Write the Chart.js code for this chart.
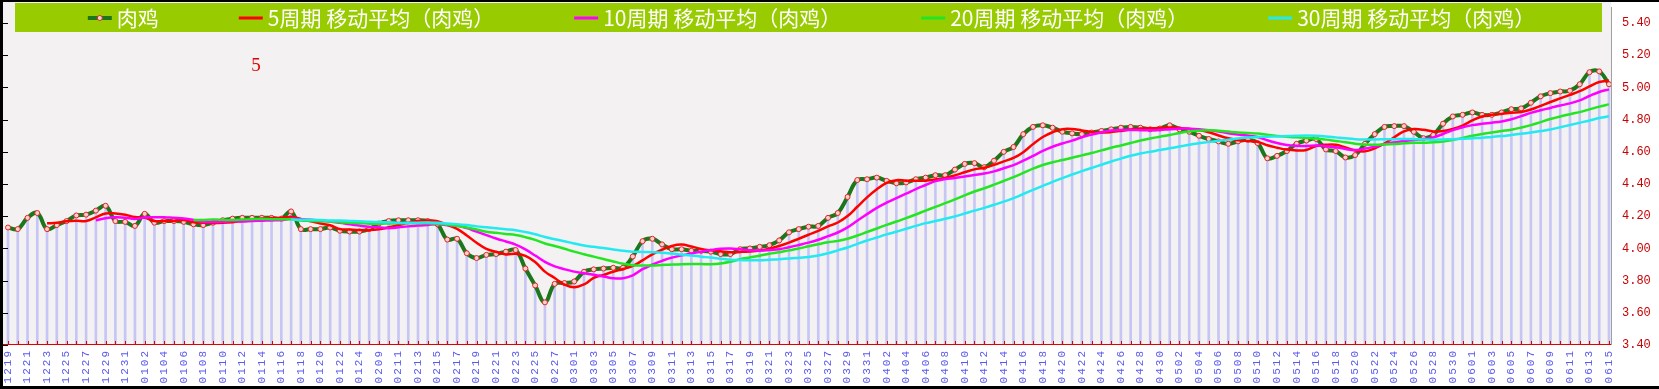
<!DOCTYPE html>
<html>
<head>
<meta charset="utf-8">
<script src="https://cdn.jsdelivr.net/npm/chart.js@4/dist/chart.umd.min.js"></script>
<style>
html, body { margin: 0; padding: 0; background: #fff; }
#c { display: block; width: 1659px; height: 389px; }
</style>
</head>
<body>
<canvas id="c" width="1659" height="389"></canvas>
<script>
// dates (MMDD), one per bar; every other one is printed under the axis
var dates = ['1219','1220','1221','1222','1223','1224','1225','1226','1227','1228','1229','1230','1231',
  '0101','0102','0103','0104','0105','0106','0107','0108','0109','0110','0111','0112','0113','0114','0115','0116','0117','0118','0119','0120','0121','0122','0123','0124',
  '0208','0209','0210','0211','0212','0213','0214','0215','0216','0217','0218','0219','0220','0221','0222','0223','0224','0225','0226','0227','0228',
  '0301','0302','0303','0304','0305','0306','0307','0308','0309','0310','0311','0312','0313','0314','0315','0316','0317','0318','0319','0320','0321','0322','0323','0324','0325','0326','0327','0328','0329','0330','0331',
  '0401','0402','0403','0404','0405','0406','0407','0408','0409','0410','0411','0412','0413','0414','0415','0416','0417','0418','0419','0420','0421','0422','0423','0424','0425','0426','0427','0428','0429','0430',
  '0501','0502','0503','0504','0505','0506','0507','0508','0509','0510','0511','0512','0513','0514','0515','0516','0517','0518','0519','0520','0521','0522','0523','0524','0525','0526','0527','0528','0529','0530','0531',
  '0601','0602','0603','0604','0605','0606','0607','0608','0609','0610','0611','0612','0613','0614','0615'];

var broiler = [4.13,4.12,4.19,4.22,4.12,4.145,4.17,4.205,4.21,4.235,
  4.265,4.17,4.165,4.14,4.215,4.16,4.17,4.17,4.165,4.15,
  4.145,4.16,4.175,4.185,4.19,4.19,4.19,4.19,4.185,4.23,
  4.12,4.12,4.12,4.13,4.11,4.105,4.105,4.12,4.155,4.17,
  4.175,4.175,4.175,4.17,4.15,4.055,4.06,3.97,3.94,3.96,
  3.965,3.98,3.99,3.875,3.77,3.665,3.78,3.785,3.795,3.855,
  3.87,3.875,3.88,3.88,3.95,4.045,4.06,4.025,3.995,3.995,
  3.985,3.985,3.98,3.965,3.965,3.995,4.00,4.01,4.02,4.05,
  4.10,4.12,4.135,4.14,4.19,4.22,4.32,4.425,4.43,4.44,
  4.42,4.405,4.41,4.43,4.44,4.455,4.455,4.49,4.525,4.53,
  4.505,4.545,4.60,4.63,4.71,4.755,4.765,4.75,4.725,4.715,
  4.71,4.72,4.73,4.74,4.75,4.755,4.75,4.74,4.745,4.765,
  4.74,4.725,4.70,4.68,4.665,4.65,4.665,4.675,4.655,4.56,
  4.575,4.605,4.65,4.67,4.68,4.615,4.605,4.565,4.58,4.65,
  4.71,4.755,4.76,4.76,4.725,4.685,4.705,4.775,4.82,4.83,
  4.845,4.83,4.83,4.845,4.865,4.87,4.905,4.945,4.965,4.975,
  4.98,5.02,5.095,5.10,5.02];

var ma5 = [null,null,null,null,4.156,4.159,4.169,4.172,4.170,4.193,
  4.217,4.217,4.209,4.195,4.191,4.170,4.170,4.171,4.176,4.163,
  4.160,4.158,4.159,4.163,4.171,4.180,4.186,4.189,4.189,4.197,
  4.183,4.169,4.155,4.144,4.120,4.117,4.114,4.114,4.119,4.131,
  4.145,4.159,4.170,4.173,4.169,4.145,4.122,4.081,4.035,3.997,
  3.979,3.963,3.967,3.954,3.916,3.856,3.816,3.775,3.759,3.776,
  3.817,3.836,3.855,3.872,3.891,3.926,3.963,3.992,4.015,4.024,
  4.012,3.997,3.988,3.982,3.976,3.978,3.981,3.987,3.998,4.015,
  4.036,4.060,4.085,4.109,4.137,4.161,4.201,4.259,4.317,4.367,
  4.407,4.424,4.421,4.421,4.421,4.428,4.438,4.454,4.473,4.491,
  4.501,4.519,4.541,4.562,4.598,4.648,4.692,4.722,4.741,4.742,
  4.733,4.724,4.720,4.723,4.730,4.739,4.745,4.747,4.748,4.751,
  4.748,4.743,4.735,4.722,4.702,4.684,4.672,4.667,4.662,4.641,
  4.626,4.614,4.609,4.612,4.636,4.644,4.644,4.627,4.609,4.603,
  4.622,4.652,4.691,4.727,4.742,4.737,4.727,4.730,4.742,4.763,
  4.795,4.820,4.831,4.836,4.843,4.848,4.863,4.886,4.910,4.932,
  4.954,4.977,5.007,5.034,5.043];

var ma10 = [null,null,null,null,null,null,null,null,null,4.175,
  4.188,4.193,4.191,4.183,4.192,4.194,4.194,4.190,4.186,4.177,
  4.165,4.164,4.165,4.170,4.167,4.170,4.172,4.174,4.176,4.184,
  4.182,4.178,4.172,4.167,4.159,4.150,4.142,4.135,4.132,4.126,
  4.131,4.137,4.142,4.146,4.150,4.145,4.141,4.126,4.104,4.083,
  4.062,4.043,4.024,3.994,3.956,3.917,3.889,3.871,3.856,3.846,
  3.836,3.826,3.815,3.815,3.833,3.871,3.899,3.923,3.943,3.957,
  3.969,3.980,3.990,3.998,4.000,3.995,3.989,3.987,3.990,3.995,
  4.007,4.021,4.036,4.054,4.076,4.099,4.131,4.172,4.213,4.252,
  4.284,4.313,4.340,4.369,4.394,4.418,4.431,4.438,4.447,4.456,
  4.465,4.479,4.498,4.518,4.545,4.575,4.606,4.632,4.652,4.670,
  4.691,4.708,4.721,4.732,4.736,4.736,4.735,4.734,4.736,4.741,
  4.744,4.744,4.741,4.735,4.727,4.716,4.708,4.701,4.692,4.672,
  4.655,4.643,4.638,4.637,4.639,4.635,4.629,4.618,4.611,4.620,
  4.633,4.648,4.659,4.668,4.673,4.680,4.690,4.711,4.735,4.753,
  4.766,4.774,4.781,4.789,4.803,4.822,4.842,4.859,4.873,4.888,
  4.901,4.920,4.947,4.972,4.988];

var ma20 = [null,null,null,null,null,null,null,null,null,null,
  null,null,null,null,null,null,null,null,null,4.176,
  4.177,4.179,4.178,4.176,4.180,4.182,4.183,4.182,4.181,4.181,
  4.173,4.171,4.169,4.168,4.163,4.160,4.157,4.154,4.154,4.155,
  4.156,4.157,4.157,4.156,4.154,4.148,4.141,4.130,4.118,4.104,
  4.097,4.090,4.083,4.070,4.053,4.031,4.015,3.998,3.980,3.964,
  3.949,3.934,3.919,3.905,3.895,3.894,3.894,3.897,3.900,3.902,
  3.903,3.903,3.902,3.907,3.917,3.933,3.944,3.955,3.967,3.976,
  3.988,4.000,4.013,4.026,4.038,4.047,4.060,4.080,4.102,4.124,
  4.146,4.167,4.188,4.211,4.235,4.258,4.281,4.305,4.330,4.354,
  4.374,4.396,4.419,4.443,4.469,4.496,4.518,4.535,4.549,4.563,
  4.578,4.593,4.609,4.625,4.640,4.655,4.670,4.683,4.694,4.705,
  4.717,4.726,4.731,4.734,4.731,4.726,4.721,4.717,4.714,4.706,
  4.699,4.694,4.690,4.686,4.683,4.676,4.668,4.660,4.651,4.646,
  4.644,4.646,4.649,4.653,4.656,4.657,4.659,4.664,4.673,4.686,
  4.700,4.711,4.720,4.729,4.738,4.751,4.766,4.785,4.804,4.820,
  4.834,4.847,4.864,4.881,4.895];

var ma30 = [null,null,null,null,null,null,null,null,null,null,
  null,null,null,null,null,null,null,null,null,null,
  null,null,null,null,null,null,null,null,null,4.179,
  4.178,4.178,4.176,4.173,4.173,4.171,4.169,4.166,4.164,4.162,
  4.159,4.159,4.160,4.161,4.159,4.155,4.151,4.145,4.137,4.131,
  4.125,4.119,4.113,4.102,4.088,4.071,4.057,4.044,4.031,4.018,
  4.010,4.002,3.994,3.985,3.980,3.978,3.976,3.973,3.968,3.962,
  3.956,3.949,3.943,3.936,3.930,3.928,3.926,3.927,3.930,3.933,
  3.937,3.942,3.947,3.956,3.970,3.988,4.006,4.028,4.049,4.068,
  4.087,4.104,4.122,4.140,4.157,4.170,4.184,4.199,4.217,4.235,
  4.252,4.271,4.291,4.313,4.338,4.364,4.389,4.414,4.437,4.459,
  4.480,4.500,4.520,4.540,4.558,4.576,4.590,4.601,4.611,4.622,
  4.633,4.644,4.653,4.662,4.669,4.676,4.683,4.689,4.693,4.694,
  4.696,4.698,4.700,4.701,4.700,4.696,4.690,4.684,4.679,4.677,
  4.677,4.678,4.679,4.680,4.679,4.677,4.675,4.677,4.679,4.681,
  4.685,4.688,4.693,4.698,4.705,4.712,4.720,4.729,4.739,4.753,
  4.767,4.781,4.795,4.810,4.821];

var yTicks = [3.4, 3.6, 3.8, 4.0, 4.2, 4.4, 4.6, 4.8, 5.0, 5.2, 5.4];

// paper background, frame, red axis ticks, legend strip
var framePlugin = {
  id: 'frame',
  beforeDraw: function(chart){
    var c = chart.ctx, a = chart.chartArea;
    c.save();
    c.fillStyle = '#ffffff';
    c.fillRect(0, 0, chart.width, chart.height);
    c.fillStyle = '#f3f1f1';
    c.fillRect(3, 2, a.right - 1, a.bottom - 2);
    c.restore();
  },
  afterDatasetsDraw: function(chart){
    // x labels are drawn next (ticks.z = 1); space the digits out
    chart.ctx.letterSpacing = '2px';
  },
  afterDraw: function(chart){
    var c = chart.ctx, a = chart.chartArea, xs = chart.scales.x, ys = chart.scales.y;
    c.letterSpacing = '0px';
    c.save();

    // red axis line with little upward ticks
    c.strokeStyle = '#e00000';
    c.lineWidth = 1;
    c.beginPath();
    c.moveTo(3, a.bottom - 0.5);
    c.lineTo(a.right + 3, a.bottom - 0.5);
    for (var i = 0; i < dates.length; i++) {
      var px = Math.round(xs.getPixelForValue(i)) + 0.5;
      c.moveTo(px, a.bottom);
      c.lineTo(px, a.bottom - 4);
    }
    c.stroke();

    // grey right edge of plot
    c.strokeStyle = '#a0a0a0';
    c.beginPath();
    c.moveTo(a.right + 2.5, a.top);
    c.lineTo(a.right + 2.5, a.bottom);
    c.stroke();

    // black frame + left ticks
    c.fillStyle = '#000';
    c.fillRect(0, 0, 3, chart.height);
    c.fillRect(0, 0, chart.width, 2);
    c.fillRect(0, chart.height - 3, chart.width, 3);
    c.strokeStyle = '#000';
    c.beginPath();
    yTicks.forEach(function(v){
      var py = Math.round(ys.getPixelForValue(v)) + 0.5;
      c.moveTo(3, py);
      c.lineTo(8, py);
    });
    c.stroke();

    // legend strip
    c.fillStyle = '#99cc00';
    c.fillRect(a.left + 7, 3, a.right - a.left - 14, 29);
    var items = chart.data.datasets.filter(function(d){ return d.type === 'line'; });
    c.font = '21px "Noto Sans CJK SC"';
    c.textBaseline = 'middle';
    c.textAlign = 'left';
    var lineLen = 24, gapText = 5, gapItem = 80, total = 0;
    items.forEach(function(d){ total += lineLen + gapText + c.measureText(d.label).width; });
    total += gapItem * (items.length - 1);
    var lx = (a.left + a.right) / 2 + 3 - total / 2, ly = 18;
    items.forEach(function(d){
      c.strokeStyle = d.borderColor;
      c.lineWidth = d.borderWidth > 3 ? 4 : 3;
      c.beginPath();
      c.moveTo(lx, ly);
      c.lineTo(lx + lineLen, ly);
      c.stroke();
      if (d.pointRadius) {
        c.fillStyle = d.pointBackgroundColor;
        c.strokeStyle = d.pointBorderColor;
        c.lineWidth = 1;
        c.beginPath();
        c.arc(lx + lineLen / 2, ly, 2.5, 0, Math.PI * 2);
        c.fill();
        c.stroke();
      }
      c.fillStyle = '#ffffff';
      c.fillText(d.label, lx + lineLen + gapText, ly);
      lx += lineLen + gapText + c.measureText(d.label).width + gapItem;
    });

    // the stray red "5"
    c.fillStyle = '#e00000';
    c.font = '19px "Liberation Serif"';
    c.textAlign = 'center';
    c.fillText('5', 256, 66);
    c.restore();
  }
};

var ctx = document.getElementById('c');
new Chart(ctx, {
  type: 'bar',
  data: {
    labels: dates,
    datasets: [
      { type: 'line', label: '肉鸡', data: broiler, borderColor: '#1c761c', borderWidth: 4,
        pointRadius: 2.5, pointBackgroundColor: '#ffd0d0', pointBorderColor: '#e02828', pointBorderWidth: 1,
        tension: 0.4, order: 5 },
      { type: 'line', label: '5周期 移动平均（肉鸡）', data: ma5, borderColor: '#ff0000', borderWidth: 2.5,
        pointRadius: 0, tension: 0.4, order: 4 },
      { type: 'line', label: '10周期 移动平均（肉鸡）', data: ma10, borderColor: '#ff00ff', borderWidth: 2.5,
        pointRadius: 0, tension: 0.4, order: 3 },
      { type: 'line', label: '20周期 移动平均（肉鸡）', data: ma20, borderColor: '#22e622', borderWidth: 2.5,
        pointRadius: 0, tension: 0.4, order: 2 },
      { type: 'line', label: '30周期 移动平均（肉鸡）', data: ma30, borderColor: '#22eaf0', borderWidth: 2.5,
        pointRadius: 0, tension: 0.4, order: 1 },
      { type: 'bar', label: 'bars', data: broiler, backgroundColor: '#c6c6f6',
        barThickness: 2, order: 10, clip: {left: 6, right: 6, top: 0, bottom: 0} }
    ]
  },
  options: {
    responsive: false,
    animation: false,
    events: [],
    layout: { padding: { left: 8, right: 6, top: 7, bottom: 4 } },
    plugins: { legend: { display: false }, tooltip: { enabled: false } },
    scales: {
      x: {
        offset: false,
        grid: { display: false, drawTicks: false, offset: false },
        border: { display: false },
        ticks: {
          autoSkip: false, minRotation: 90, maxRotation: 90, padding: 4, z: 1,
          color: '#5a5af0', font: { family: 'Liberation Mono', size: 11 },
          callback: function(v, i){ return i % 2 === 0 ? dates[i] : ''; }
        },
        afterFit: function(s){ s.height = 40; s.paddingLeft = 0; s.paddingRight = 0; }
      },
      y: {
        position: 'right',
        min: 3.4, max: 5.5,
        grid: { display: false, drawTicks: false },
        border: { display: false },
        afterBuildTicks: function(s){ s.ticks = yTicks.map(function(v){ return { value: v }; }); },
        ticks: {
          padding: 13, color: '#c80000', font: { family: 'Liberation Mono', size: 12 },
          callback: function(v){ return v.toFixed(2); }
        },
        afterFit: function(s){ s.width = 44; s.paddingTop = 0; s.paddingBottom = 0; }
      }
    }
  },
  plugins: [framePlugin]
});
</script>
</body>
</html>
